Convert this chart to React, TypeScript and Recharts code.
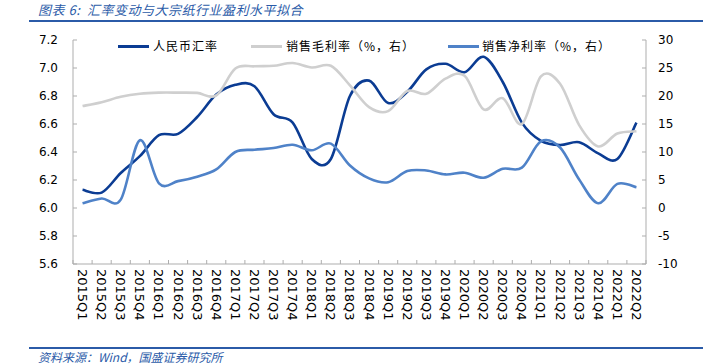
import React from 'react';
import { LineChart, Line, XAxis, YAxis, Legend } from 'recharts';

const quarters = [
  '2015Q1', '2015Q2', '2015Q3', '2015Q4',
  '2016Q1', '2016Q2', '2016Q3', '2016Q4',
  '2017Q1', '2017Q2', '2017Q3', '2017Q4',
  '2018Q1', '2018Q2', '2018Q3', '2018Q4',
  '2019Q1', '2019Q2', '2019Q3', '2019Q4',
  '2020Q1', '2020Q2', '2020Q3', '2020Q4',
  '2021Q1', '2021Q2', '2021Q3', '2021Q4',
  '2022Q1', '2022Q2',
];

// 人民币汇率 (left axis)
const rate = [
  6.13, 6.11, 6.25, 6.37, 6.52, 6.53, 6.65, 6.81, 6.88, 6.87,
  6.67, 6.61, 6.35, 6.35, 6.80, 6.91, 6.75, 6.83, 6.99, 7.03,
  6.97, 7.08, 6.90, 6.61, 6.48, 6.45, 6.47, 6.39, 6.35, 6.61,
];

// 销售毛利率 % (right axis)
const grossMargin = [
  18.2, 18.9, 19.85, 20.4, 20.6, 20.6, 20.55, 20.1, 24.9, 25.3,
  25.4, 25.9, 25.1, 25.4, 21.9, 18.0, 17.3, 20.9, 20.4, 23.1,
  23.6, 17.6, 19.6, 15.0, 23.5, 22.2, 14.8, 11.0, 13.3, 13.7,
];

// 销售净利率 % (right axis)
const netMargin = [
  0.85, 1.7, 1.5, 12.1, 4.4, 4.8, 5.6, 6.9, 10.0, 10.4,
  10.7, 11.3, 10.3, 11.5, 7.6, 5.3, 4.6, 6.6, 6.7, 6.0,
  6.3, 5.4, 7.0, 7.2, 11.9, 10.8, 5.1, 0.84, 4.3, 3.7,
];

const leftTicks = [5.6, 5.8, 6.0, 6.2, 6.4, 6.6, 6.8, 7.0, 7.2];
const rightTicks = [-10, -5, 0, 5, 10, 15, 20, 25, 30];

const seriesNames = ['人民币汇率', '销售毛利率（%，右）', '销售净利率（%，右）'];

const data = quarters.map((q, i) => ({
  q,
  rate: rate[i],
  gross: grossMargin[i],
  net: netMargin[i],
}));

const RATE_COLOR = '#0B3C93';
const GROSS_COLOR = '#CFCFCF';
const NET_COLOR = '#4F82C8';
const AXIS_COLOR = '#ADADAD';
const BRAND = '#2B5BA8';

const PLOT_LEFT = 73;
const PLOT_RIGHT = 646;
const HALF_BAND = (PLOT_RIGHT - PLOT_LEFT) / quarters.length / 2;

// Excel-like smoothed line (uniform Catmull-Rom through the points)
function excelCurve(context: any) {
  let pts: [number, number][] = [];
  return {
    areaStart() {},
    areaEnd() {},
    lineStart() {
      pts = [];
    },
    point(x: number, y: number) {
      pts.push([+x, +y]);
    },
    lineEnd() {
      if (!pts.length) return;
      context.moveTo(pts[0][0], pts[0][1]);
      for (let i = 0; i < pts.length - 1; i++) {
        const p0 = pts[Math.max(0, i - 1)];
        const p1 = pts[i];
        const p2 = pts[i + 1];
        const p3 = pts[Math.min(pts.length - 1, i + 2)];
        context.bezierCurveTo(
          p1[0] + (p2[0] - p0[0]) / 6,
          p1[1] + (p2[1] - p0[1]) / 6,
          p2[0] - (p3[0] - p1[0]) / 6,
          p2[1] - (p3[1] - p1[1]) / 6,
          p2[0],
          p2[1]
        );
      }
    },
  };
}

function QuarterTick(props: any) {
  const { x, y, payload, index } = props;
  const ty = y + 5;
  return (
    <g>
      <line x1={x - HALF_BAND} x2={x - HALF_BAND} y1={y} y2={y - 4} stroke={AXIS_COLOR} />
      {index === quarters.length - 1 && (
        <line x1={x + HALF_BAND} x2={x + HALF_BAND} y1={y} y2={y - 4} stroke={AXIS_COLOR} />
      )}
      <text
        x={x}
        y={ty}
        transform={`rotate(90, ${x}, ${ty})`}
        textAnchor="start"
        dominantBaseline="central"
        fontSize={13}
        fontFamily="DejaVu Sans"
        fill="#000"
      >
        {payload.value}
      </text>
    </g>
  );
}

// legend slot per series, in seriesNames order
const legendPos = [
  { line: 118, text: 153 },
  { line: 251, text: 286 },
  { line: 448, text: 482 },
];

function LegendContent(props: any) {
  const items = props.payload || [];
  return (
    <div style={{ position: 'relative', width: 703, height: 16 }}>
      {items.map((item: any) => {
        const pos = legendPos[Math.max(0, seriesNames.indexOf(item.value))];
        return (
          <React.Fragment key={item.value}>
            <div
              style={{
                position: 'absolute',
                left: pos.line,
                top: 7,
                width: 31,
                height: 3,
                background: item.color,
              }}
            />
            <div
              style={{
                position: 'absolute',
                left: pos.text,
                top: 0,
                fontSize: 12,
                lineHeight: '16px',
                letterSpacing: 1,
                whiteSpace: 'nowrap',
                fontFamily: '"Noto Sans CJK SC", sans-serif',
                color: '#000',
              }}
            >
              {item.value}
            </div>
          </React.Fragment>
        );
      })}
    </div>
  );
}

export default function App() {
  return (
    <div style={{ position: 'absolute', left: 0, top: 0, width: 703, height: 364, background: '#fff', overflow: 'hidden' }}>
      <div
        style={{
          position: 'absolute',
          left: 38,
          top: 2,
          fontSize: 13,
          fontStyle: 'italic',
          color: BRAND,
          whiteSpace: 'pre',
          letterSpacing: 0.5,
          fontFamily: '"Noto Sans CJK SC", sans-serif',
          lineHeight: '16px',
        }}
      >
        {'图表 6:  汇率变动与大宗纸行业盈利水平拟合'}
      </div>
      <div style={{ position: 'absolute', left: 29, top: 20, width: 674, height: 2, background: BRAND }} />

      <LineChart
        width={703}
        height={364}
        data={data}
        margin={{ top: 40, right: 17, left: 13, bottom: 40 }}
      >
        <XAxis
          dataKey="q"
          interval={0}
          tickLine={false}
          tickSize={0}
          tickMargin={0}
          height={60}
          padding={{ left: HALF_BAND, right: HALF_BAND }}
          axisLine={{ stroke: AXIS_COLOR }}
          tick={<QuarterTick />}
        />
        <YAxis
          yAxisId="left"
          width={60}
          domain={[5.6, 7.2]}
          ticks={leftTicks}
          tickFormatter={(v: number) => v.toFixed(1)}
          tickSize={-4}
          tickMargin={19}
          axisLine={{ stroke: AXIS_COLOR }}
          tickLine={{ stroke: AXIS_COLOR }}
          tick={{ fontSize: 12, fill: '#000', fontFamily: 'DejaVu Sans' }}
          interval={0}
        />
        <YAxis
          yAxisId="right"
          orientation="right"
          width={40}
          domain={[-10, 30]}
          ticks={rightTicks}
          tickSize={-4}
          tickMargin={16}
          axisLine={{ stroke: AXIS_COLOR }}
          tickLine={{ stroke: AXIS_COLOR }}
          tick={{ fontSize: 12, fill: '#000', fontFamily: 'DejaVu Sans' }}
          interval={0}
        />
        <Legend
          verticalAlign="middle"
          align="center"
          layout="horizontal"
          wrapperStyle={{ top: 38, left: 0, width: 703, height: 16 }}
          content={<LegendContent />}
        />
        <Line
          yAxisId="left"
          dataKey="rate"
          name={seriesNames[0]}
          type={excelCurve as any}
          stroke={RATE_COLOR}
          strokeWidth={2.6}
          dot={false}
          isAnimationActive={false}
        />
        <Line
          yAxisId="right"
          dataKey="gross"
          name={seriesNames[1]}
          type={excelCurve as any}
          stroke={GROSS_COLOR}
          strokeWidth={2.6}
          dot={false}
          isAnimationActive={false}
        />
        <Line
          yAxisId="right"
          dataKey="net"
          name={seriesNames[2]}
          type={excelCurve as any}
          stroke={NET_COLOR}
          strokeWidth={2.6}
          dot={false}
          isAnimationActive={false}
        />
      </LineChart>

      <div style={{ position: 'absolute', left: 29, top: 347, width: 674, height: 2, background: BRAND }} />
      <div
        style={{
          position: 'absolute',
          left: 38,
          top: 350,
          fontSize: 12,
          fontStyle: 'italic',
          color: BRAND,
          whiteSpace: 'nowrap',
          fontFamily: '"Noto Sans CJK SC", sans-serif',
          lineHeight: '14px',
        }}
      >
        资料来源：Wind，国盛证券研究所
      </div>
    </div>
  );
}
